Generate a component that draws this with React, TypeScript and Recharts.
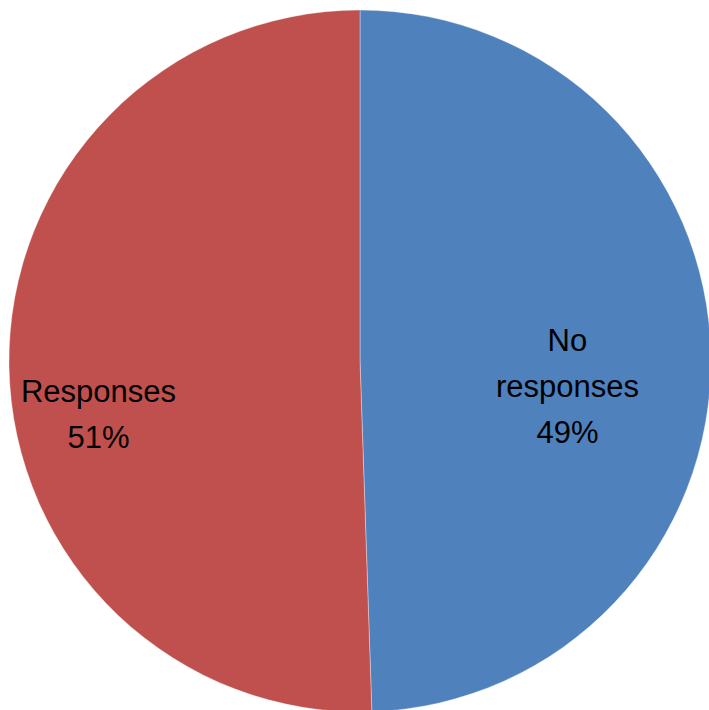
import { PieChart, Pie, Cell } from "recharts";

const categories = ["No responses", "Responses"];
const counts = [46, 47];
// how each category name wraps inside its slice
const nameLines = [["No", "responses"], ["Responses"]];
const colors = ["#4F81BD", "#C0504D"];

// label block centre, as a fraction of the radius from the pie centre
const labelSpots = [
  { kx: 0.591, ky: 0.071 },
  { kx: -0.745, ky: 0.151 },
];

const data = categories.map((name, i) => ({ name, value: counts[i] }));

const LINE_H = 46;

function renderLabel(props: any) {
  const { cx, cy, outerRadius, index, percent } = props;
  const spot = labelSpots[index];
  const x = cx + spot.kx * outerRadius;
  const y = cy + spot.ky * outerRadius;
  const lines = [...nameLines[index], `${Math.round(percent * 100)}%`];
  const first = y - ((lines.length - 1) * LINE_H) / 2 + 11;
  return (
    <text
      x={x}
      y={first}
      textAnchor="middle"
      fill="#000"
      fontSize={31}
      fontFamily="'Liberation Sans', Arial, sans-serif"
    >
      {lines.map((t, i) => (
        <tspan key={i} x={x} y={first + i * LINE_H}>
          {t}
        </tspan>
      ))}
    </text>
  );
}

export default function App() {
  return (
    <div style={{ position: "absolute", left: 0, top: 0, background: "#fff" }}>
      <PieChart
        width={709}
        height={710}
        margin={{ top: 0, right: 0, bottom: 0, left: 0 }}
      >
        <Pie
          data={data}
          dataKey="value"
          nameKey="name"
          cx={360}
          cy={361}
          outerRadius={351}
          startAngle={90}
          endAngle={-270}
          stroke="#ffffff"
          strokeOpacity={0.35}
          strokeWidth={1}
          label={renderLabel}
          labelLine={false}
          isAnimationActive={false}
        >
          {data.map((d, i) => (
            <Cell key={d.name} fill={colors[i]} />
          ))}
        </Pie>
      </PieChart>
    </div>
  );
}
